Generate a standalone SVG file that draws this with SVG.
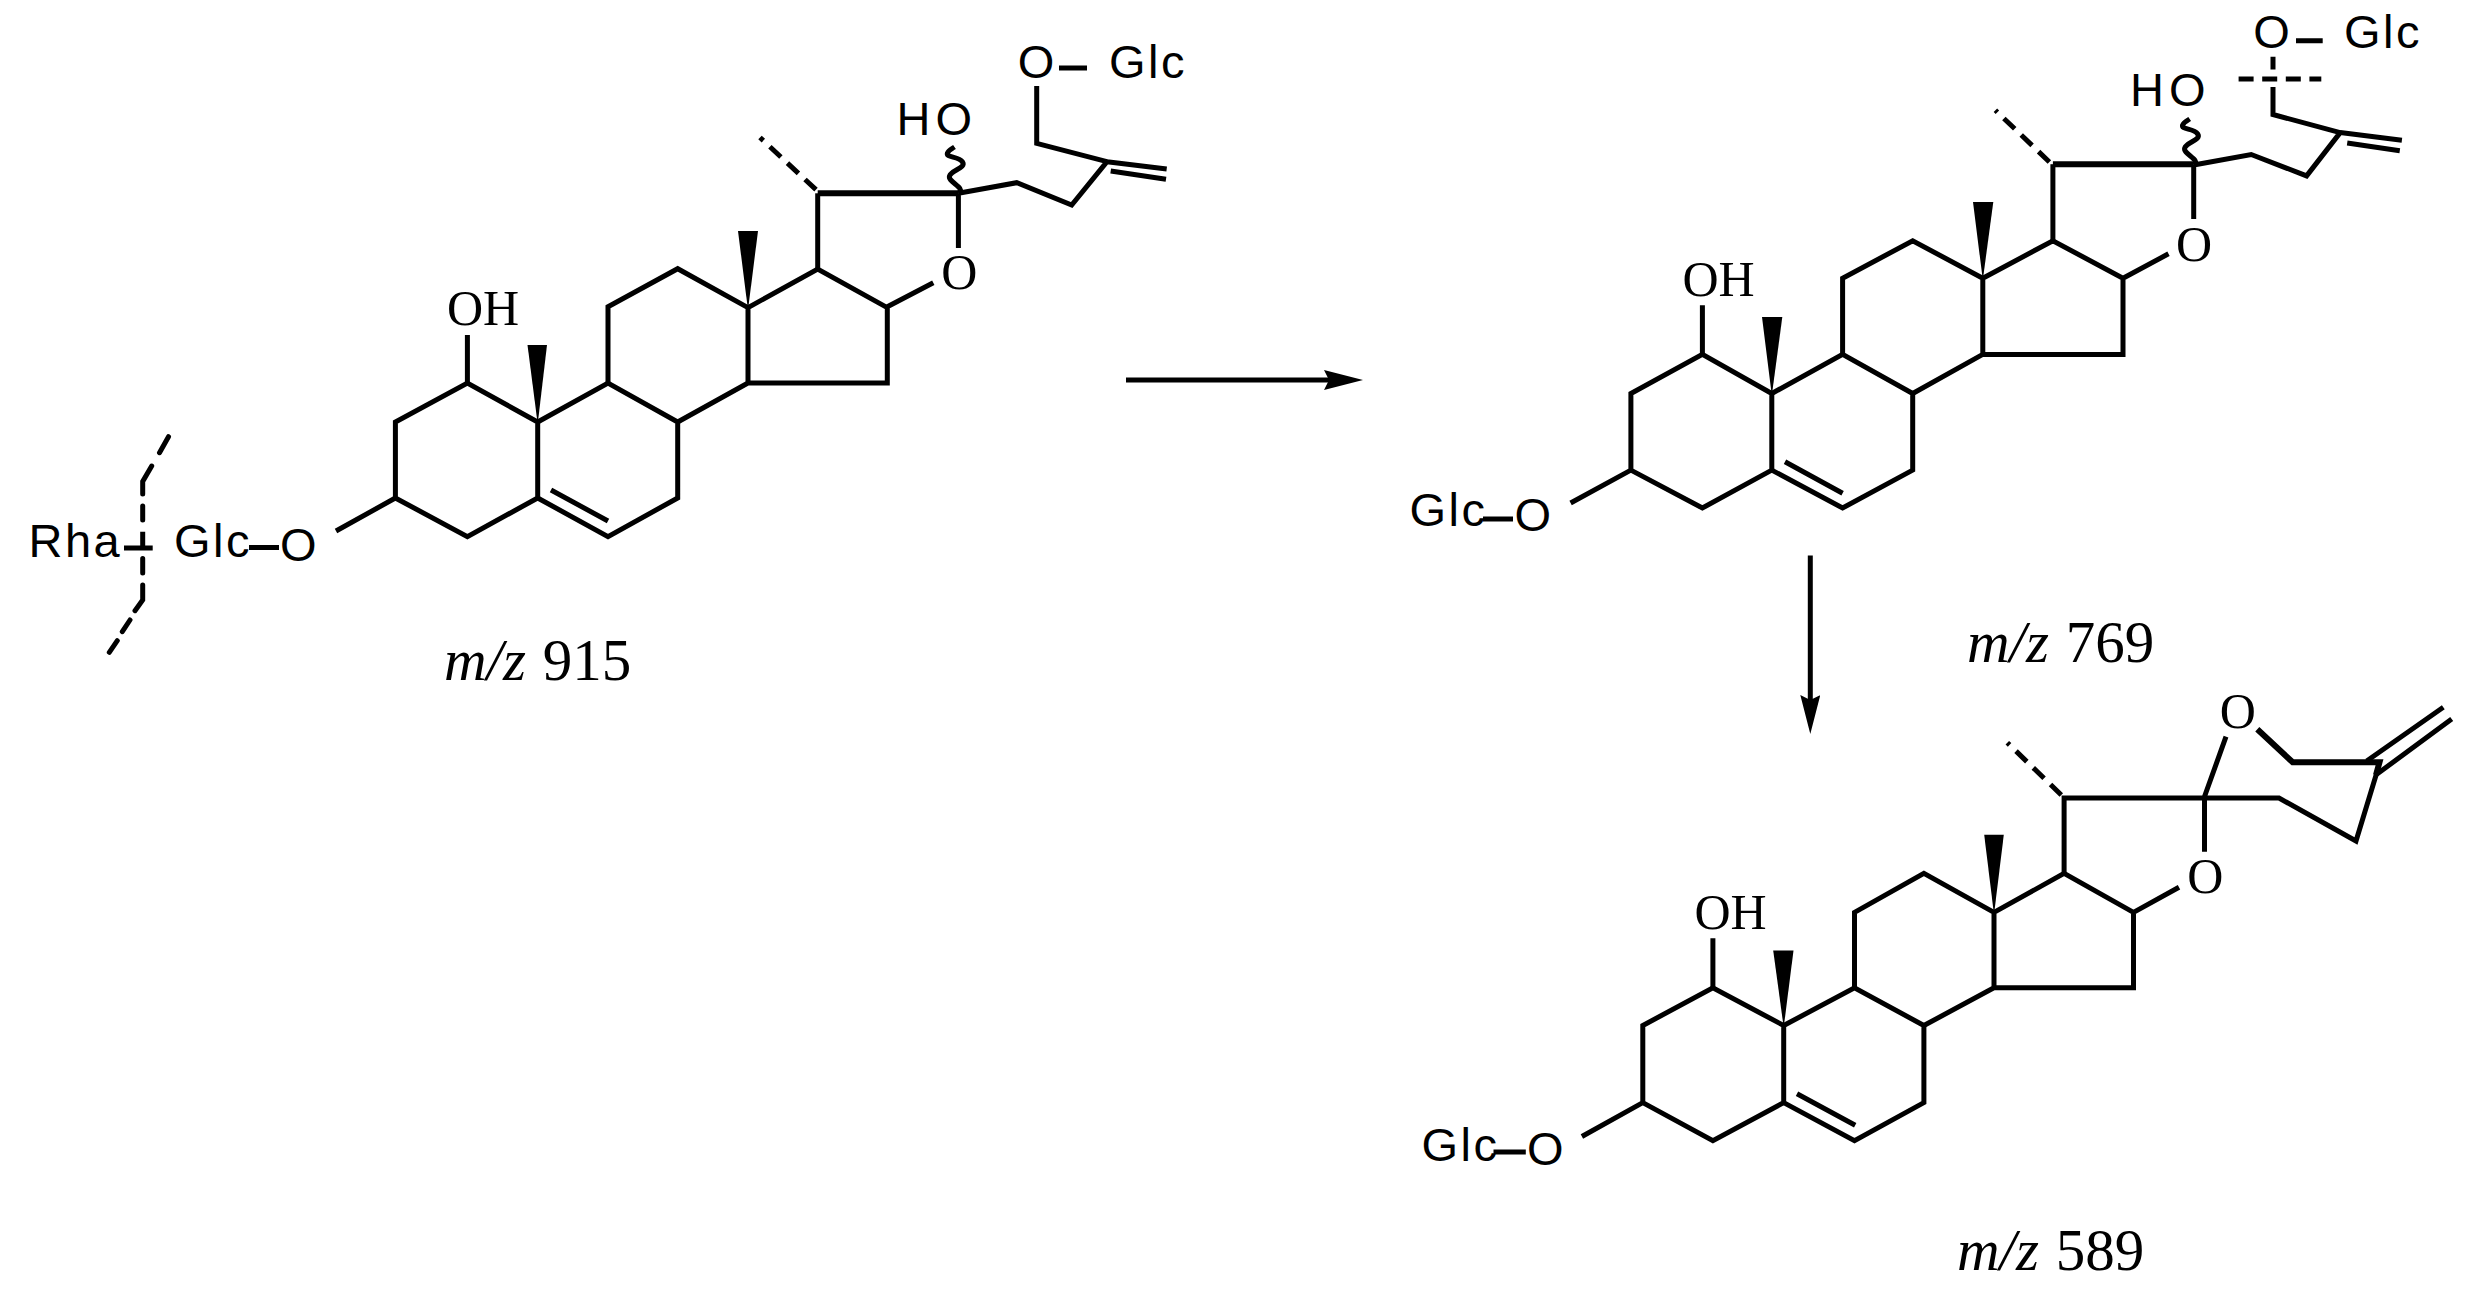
<svg xmlns="http://www.w3.org/2000/svg" xmlns:xlink="http://www.w3.org/1999/xlink" width="2479" height="1297" viewBox="0 0 2479 1297">
<style>
.b{fill:none;stroke:#000;stroke-width:5;stroke-linejoin:miter;stroke-linecap:butt}
.t{stroke-width:6}
.d{stroke-dasharray:15 9}
.c{stroke-linecap:round}
.w{fill:#000;stroke:none}
.s{font-family:"Liberation Sans",Arial,sans-serif;font-size:47px;letter-spacing:2.5px;fill:#000}
.r{font-family:"Liberation Serif","Times New Roman",serif;font-size:50px;fill:#000}
.m{font-family:"Liberation Serif","Times New Roman",serif;font-size:59px;word-spacing:2px;fill:#000}
.m tspan{font-style:italic}
</style>
<defs>
<marker id="ah" markerUnits="userSpaceOnUse" markerWidth="40" markerHeight="22" refX="5" refY="10" orient="auto"><path d="M0 0 L39 10 L0 20 L5 10 Z" fill="#000"/></marker>
<path id="wavy" class="b" d="M0 0 C8 -5 -11 -11 -9 -17 C-7 -23 8 -25 4 -31 C0 -37 -13 -35 -11 -40 C-10 -43 -7 -44 -4 -46"/>
</defs>
<rect width="2479" height="1297" fill="#fff"/>
<g id="connectors">
<path class="b" d="M1126 380 H1329" marker-end="url(#ah)"/>
<path class="b" d="M1810.3 555.6 V700" marker-end="url(#ah)"/>
</g>
<g id="mz915">
<path class="b" d="M336 531 L395.4 498 V422 L467.4 383 L537.7 422 V498 L467.4 536.6 L395.4 498"/>
<path class="b" d="M467.4 383 V335 M537.7 422 L608 383 L677.7 422 V498 L608 536.6 L537.7 498 M551 490 L608 521"/>
<path class="b" d="M608 383 V306.7 L677.7 268.7 L748 307.6 V383 L677.7 422 M748 383 H887.3 V307.6 L817.7 269 L748 307.6 M887.3 306.7 L933.3 282.7"/>
<path class="b" d="M817.7 269 V193.3"/>
<path class="b t" d="M817.7 193.3 H958.4"/>
<path class="b" d="M958.4 193.3 V248 M958.4 193.3 L1016.7 182.7 L1071.7 205 L1107 161.7 L1036.7 143.3 V86 M1107 161.7 L1166.7 169 M1110.7 171 L1166 179.3"/>
<path class="b d" d="M816 189.7 L760 137.5"/>
<use xlink:href="#wavy" href="#wavy" x="958.5" y="193"/>
<polygon class="w" points="527.5,345 547,345 537.7,424"/>
<polygon class="w" points="738,231 758,231 748,310"/>
<path class="b" d="M1059 68 H1087 M249 547.5 H279 M124 548 H152.7 M142.7 531.7 V548"/>
<path class="b c" d="M168.5 436.7 L159.5 452.7 M151.7 466 L142.7 481.5 V494 M142.7 506 V520 M142.7 558.5 V573 M142.7 585 V600 L135 610.7 M130 620 L122.3 631.7 M117.3 640.7 L109.3 652.3"/>
<text class="s" x="28.5" y="556.7">Rha</text>
<text class="s" x="174" y="556.7">Glc</text>
<text class="s" x="280" y="560.5">O</text>
<text class="s" x="1017.7" y="77.5">O</text>
<text class="s" x="1109" y="77.5">Glc</text>
<text class="s" x="896.5" y="135" style="letter-spacing:5px">HO</text>
<text class="r" x="941.3" y="288.5">O</text>
<text class="r" x="447" y="324.5">OH</text>
<text class="m" x="444" y="680"><tspan>m/z</tspan> 915</text>
</g>
<g id="mz769">
<path class="b" d="M1570.6 503 L1630.9 470.1 V393.5 L1702.4 354.4 L1771.8 393.5 V470.1 L1702.4 508 L1630.9 470.1"/>
<path class="b" d="M1702.4 354.4 V305.2 M1771.8 393.5 L1842.6 354.4 L1912.7 393.5 V470.1 L1842.6 508 L1771.8 470.1 M1785 461.7 L1842.6 493.3"/>
<path class="b" d="M1842.6 354.4 V278.2 L1912.7 240.8 L1982.8 278.2 V354.4 L1912.7 393.5 M1982.8 354.4 H2123 V278.2 L2052.9 240.8 L1982.8 278.2 M2123 278.2 L2168.5 253.8"/>
<path class="b" d="M2052.9 240.8 V164.2"/>
<path class="b t" d="M2052.9 164.2 H2193.7"/>
<path class="b" d="M2193.7 165 V218.9 M2193.7 165 L2251.2 154.5 L2306.6 175.9 L2340.2 132.6 L2273 114.5 V87 M2340.2 132.6 L2401.9 140.2 M2347.2 143 L2399.8 150.7 M2296 40.8 H2322.7 M2273 56.8 V69.4"/>
<path class="b" d="M2238.6 79.1 H2321.3" stroke-dasharray="15 8.6"/>
<path class="b d" d="M2049.4 162 L1995.4 110.3"/>
<use xlink:href="#wavy" href="#wavy" x="2193.7" y="165"/>
<polygon class="w" points="1762,317 1782.3,317 1771.8,395.5"/>
<polygon class="w" points="1973,202 1993.3,202 1982.8,280"/>
<path class="b" d="M1483 519 H1513"/>
<text class="s" x="1409.5" y="526">Glc</text>
<text class="s" x="1514.5" y="531">O</text>
<text class="s" x="2253.2" y="48">O</text>
<text class="s" x="2344" y="48">Glc</text>
<text class="s" x="2130" y="105.5" style="letter-spacing:5px">HO</text>
<text class="r" x="2176" y="260.5">O</text>
<text class="r" x="1682.5" y="296">OH</text>
<text class="m" x="1967" y="661.5"><tspan>m/z</tspan> 769</text>
</g>
<g id="mz589">
<path class="b" d="M1581.9 1136.5 L1642.8 1102.6 V1025.5 L1712.9 987.8 L1783.7 1025.5 V1102.6 L1712.9 1140.7 L1642.8 1102.6"/>
<path class="b" d="M1712.9 987.8 V938.3 M1783.7 1025.5 L1854.5 987.8 L1923.9 1025.5 V1102.6 L1854.5 1140.7 L1783.7 1102.6 M1797 1093.8 L1855.2 1125.2"/>
<path class="b" d="M1854.5 987.8 V912.4 L1923.9 873.4 L1994 912.4 V987.8 L1923.9 1025.5 M1994 987.8 H2133.5 V912.4 L2064.1 873.4 L1994 912.4 M2133.5 912.4 L2179 887.2"/>
<path class="b" d="M2064.1 873.4 V798 H2279 L2356 841 L2376.7 773 M2204.5 798 V851.7 M2204 798 L2226 736.7"/>
<path class="b t" d="M2257.3 729.3 L2292.7 762.3 H2379.5 L2376 775"/>
<path class="b" d="M2366.7 761 L2443.3 707.3 M2376.7 774.3 L2451.7 719"/>
<path class="b d" d="M2061.3 795 L2007.3 742.7"/>
<polygon class="w" points="1773.2,950.5 1793.5,950.5 1783.7,1027.5"/>
<polygon class="w" points="1984.2,834.8 2003.8,834.8 1994,914.4"/>
<path class="b" d="M1493.5 1152 H1525.8"/>
<text class="s" x="1421.5" y="1160.8">Glc</text>
<text class="s" x="1527" y="1164.5">O</text>
<text class="r" x="2219.7" y="727.5">O</text>
<text class="r" x="2187.3" y="893">O</text>
<text class="r" x="1694.5" y="928.5">OH</text>
<text class="m" x="1957" y="1270"><tspan>m/z</tspan> 589</text>
</g>
</svg>
